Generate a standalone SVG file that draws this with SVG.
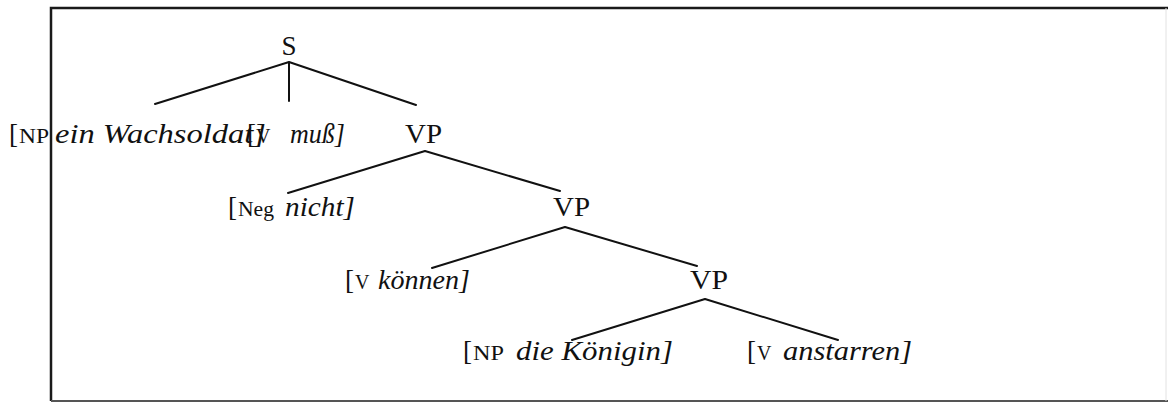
<svg xmlns="http://www.w3.org/2000/svg" width="1168" height="404" viewBox="0 0 1168 404">
<style>
text{font-family:"Liberation Serif","Times New Roman",serif;fill:#111;font-size:27px}
.it{font-style:italic}
.sc{font-size:20px}
.edge{stroke:#111;stroke-width:2;fill:none;stroke-linecap:round}
.frame{stroke:#1a1a1a;stroke-width:2.5;fill:none}
</style>
<rect width="1168" height="404" fill="#ffffff"/>
<g id="frame">
<path class="frame" d="M1168 8 H51 V401"/>
<path d="M51 401 H1168" stroke="#555" stroke-width="2" fill="none"/>
<path d="M1166 8 V401" stroke="#e2e2e2" stroke-width="1" fill="none"/>
</g>
<g id="connectors">
<path class="edge" d="M289 62 L155 104 M289 62 L289 101 M289 62 L416 105"/>
<path class="edge" d="M425 151 L288 193 M425 151 L560 191"/>
<path class="edge" d="M565 227 L432 268 M565 227 L697 266"/>
<path class="edge" d="M705 299 L572 340 M705 299 L838 340"/>
</g>
<g id="S"><text x="289" y="55" text-anchor="middle">S</text></g>
<g id="NP1"><text x="9" y="143">[</text><text class="sc" x="19" y="143" textLength="30" lengthAdjust="spacingAndGlyphs">NP</text><text class="it" x="55" y="143" textLength="211" lengthAdjust="spacingAndGlyphs">ein Wachsoldat]</text></g>
<g id="V1"><text x="247" y="143">[</text><text class="sc" x="256" y="143">V</text><text class="it" x="290" y="143" textLength="55" lengthAdjust="spacingAndGlyphs">muß]</text></g>
<g id="VP1"><text x="405" y="143" textLength="37" lengthAdjust="spacingAndGlyphs">VP</text></g>
<g id="Neg"><text x="228" y="216">[</text><text class="sc" x="238" y="216" textLength="36" lengthAdjust="spacingAndGlyphs">Neg</text><text class="it" x="285" y="216" textLength="70" lengthAdjust="spacingAndGlyphs">nicht]</text></g>
<g id="VP2"><text x="553" y="216" textLength="37" lengthAdjust="spacingAndGlyphs">VP</text></g>
<g id="V2"><text x="345" y="289">[</text><text class="sc" x="355" y="289">V</text><text class="it" x="378" y="289" textLength="92" lengthAdjust="spacingAndGlyphs">können]</text></g>
<g id="VP3"><text x="690" y="289" textLength="38" lengthAdjust="spacingAndGlyphs">VP</text></g>
<g id="NP2"><text x="463" y="360">[</text><text class="sc" x="473" y="360" textLength="31" lengthAdjust="spacingAndGlyphs">NP</text><text class="it" x="516" y="360" textLength="157" lengthAdjust="spacingAndGlyphs">die Königin]</text></g>
<g id="V3"><text x="747" y="360">[</text><text class="sc" x="757" y="360">V</text><text class="it" x="783" y="360" textLength="129" lengthAdjust="spacingAndGlyphs">anstarren]</text></g>
</svg>
